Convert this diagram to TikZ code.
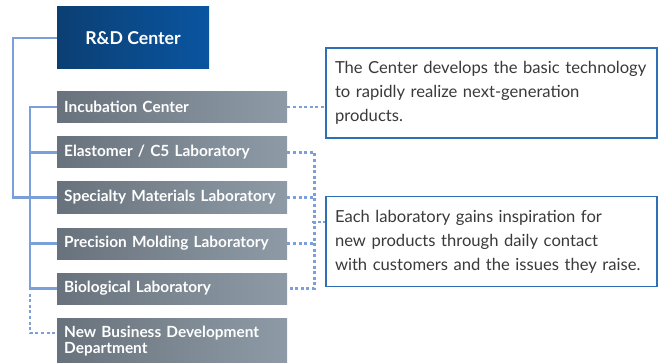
\documentclass[tikz,border=0pt]{standalone}
\usepackage{fontspec}
\setmainfont{Lato}
\usepackage{xcolor}
\usepackage{tikz}
\usetikzlibrary{calc}

\definecolor{rdleft}{HTML}{0B3F73}
\definecolor{rdmid}{HTML}{00579F}
\definecolor{rdright}{HTML}{0A55A0}
\definecolor{unitleft}{HTML}{68727C}
\definecolor{unitright}{HTML}{8E9BA6}
\definecolor{treeblue}{HTML}{7B9FD8}
\definecolor{noteblue}{HTML}{2F6FB6}
\definecolor{notetext}{HTML}{3A3A3A}

\begin{document}
\begin{tikzpicture}[x=1pt,y=-1pt,
  rdbox/.style={left color=rdleft,middle color=rdmid,right color=rdright,text=white,
    font=\fontsize{17.7}{20}\selectfont\bfseries,minimum width=152pt,minimum height=62pt,inner sep=0pt},
  unitbox/.style={left color=unitleft,right color=unitright,text=white,anchor=west,
    font=\fontsize{15.4}{16}\selectfont\bfseries,minimum width=228pt,minimum height=31pt,
    text width=216pt,inner xsep=7pt,inner ysep=0pt,align=left},
  notebox/.style={draw=noteblue,line width=1.3pt,fill=white,text=notetext,
    font=\fontsize{16.6}{24}\selectfont,minimum width=331pt,minimum height=90pt,
    text width=313pt,inner xsep=9pt,align=left},
  treeline/.style={treeblue,line width=2.4pt},
  dotline/.style={treeblue,line width=2.4pt,dash pattern=on 3pt off 2.6pt}]
\useasboundingbox (0,0) rectangle (660,363);

% Boxes
\node[rdbox] (rd) at (133,38) {R\&D Center};
\node[unitbox] (inc) at (57,107) {Incubation Center};
\node[unitbox] (ela) at (57,152.5) {Elastomer / C5 Laboratory};
\node[unitbox] (spe) at (57,197.5) {Specialty Materials Laboratory};
\node[unitbox] (pre) at (57,243.5) {Precision Molding Laboratory};
\node[unitbox] (bio) at (57,288.5) {Biological Laboratory};
\node[unitbox,minimum height=46pt] (nbd) at (57,341) {New Business Development\\Department};

% Notes
\node[notebox] (note1) at (491.5,93) {\mbox{The Center develops the basic technology}\\\mbox{to rapidly realize next-generation}\\products.};
\node[notebox] (note2) at (491.5,241.5) {\mbox{Each laboratory gains inspiration for}\\\mbox{new products through daily contact}\\\mbox{with customers and the issues they raise.}};

% Tree
\draw[treeline] (rd.west) -- ++(-44,0) |- (spe.west);
\draw[treeline] (inc.west) -- ++(-27,0) |- (bio.west);
\draw[treeline] (ela.west) -- ++(-27,0);
\draw[treeline] (pre.west) -- ++(-27,0);
\draw[dotline] ($(bio.west)+(-27,5)$) |- ($(nbd.west)+(0,-8)$);

% Links to notes
\draw[dotline] (inc.east) -- (inc.east -| note1.west);
\draw[dotline] (ela.east) -- ++(27,0) |- (bio.east);
\draw[dotline] (spe.east) -- ++(27,0);
\draw[dotline] (pre.east) -- ++(27,0);
\coordinate (brk) at (312,222);
\draw[dotline] (brk) -- (brk -| note2.west);
\end{tikzpicture}
\end{document}
